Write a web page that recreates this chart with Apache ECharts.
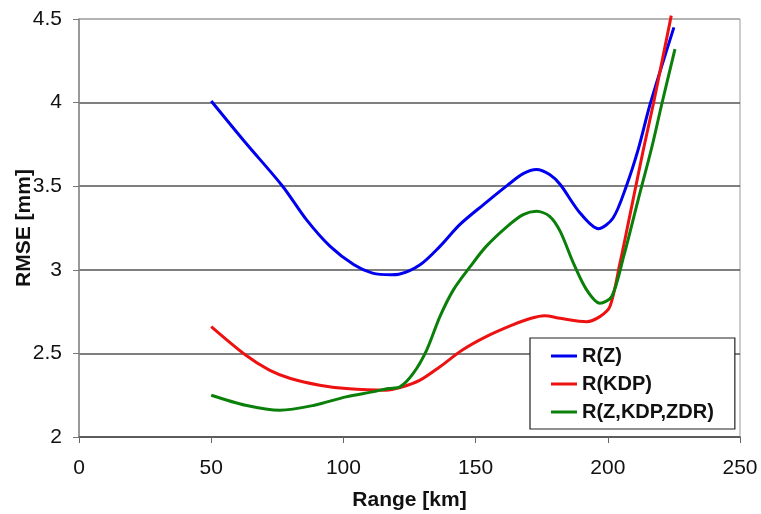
<!DOCTYPE html>
<html>
<head>
<meta charset="utf-8">
<script src="https://cdn.jsdelivr.net/npm/echarts@6/dist/echarts.min.js"></script>
<style>
html,body{margin:0;padding:0;background:#fff;}
#c{width:761px;height:514px;}
</style>
</head>
<body>
<div id="c"></div>
<script>
// R(Z)
var rangeZ = [50, 63, 77, 86, 95, 104, 111, 118, 121, 129, 136.5, 144, 153, 162, 168, 173, 178, 182, 189.5, 196.4, 202, 207, 211.5, 216, 225];
var rmseZ  = [4.01, 3.76, 3.50, 3.30, 3.14, 3.03, 2.98, 2.97, 2.973, 3.03, 3.14, 3.27, 3.39, 3.505, 3.575, 3.60, 3.57, 3.51, 3.34, 3.246, 3.31, 3.50, 3.72, 3.99, 4.45];
// R(KDP)
var rangeKDP = [50, 63, 72, 80, 91, 101, 116, 121.4, 129, 136.5, 145, 154, 164, 171, 176, 182, 192, 197, 200.8, 204.6, 208.4, 213.4, 217.2, 224];
var rmseKDP  = [2.66, 2.49, 2.40, 2.35, 2.31, 2.29, 2.28, 2.295, 2.34, 2.42, 2.52, 2.60, 2.67, 2.71, 2.725, 2.71, 2.69, 2.72, 2.78, 3.04, 3.33, 3.715, 3.99, 4.52];
// R(Z,KDP,ZDR)
var rangeZKZ = [50, 63, 76, 89, 101, 111, 117, 121.4, 126.4, 131.5, 136.5, 141.6, 148, 154, 162, 168, 173, 178, 182, 187, 192, 197, 201.5, 206, 211.5, 216.6, 220.4, 225.4];
var rmseZKZ  = [2.25, 2.19, 2.16, 2.19, 2.24, 2.27, 2.29, 2.30, 2.38, 2.52, 2.72, 2.88, 3.02, 3.14, 3.26, 3.33, 3.35, 3.32, 3.23, 3.04, 2.88, 2.80, 2.84, 3.08, 3.42, 3.73, 3.99, 4.32];
var seriesNames = ['R(Z)', 'R(KDP)', 'R(Z,KDP,ZDR)'];
var xTitle = 'Range [km]';
var yTitle = 'RMSE [mm]';

function pairs(xs, vals){ return xs.map(function(r,i){ return [r, vals[i]]; }); }

var chart = echarts.init(document.getElementById('c'));
var font = 'Liberation Sans, Arial, sans-serif';
function mk(name, xs, vals, color){
  return {
    name: name, type: 'line', data: pairs(xs, vals), smooth: 0.3,
    symbol: 'none', clip: false,
    lineStyle: {color: color, width: 3}, itemStyle: {color: color}
  };
}
chart.setOption({
  animation: false,
  grid: {left: 79, right: 21, top: 19, bottom: 77, containLabel: false, outerBoundsMode: 'none',
         show: true, borderColor: '#999', borderWidth: 1},
  xAxis: {
    type: 'value', min: 0, max: 250, interval: 50,
    name: xTitle, nameLocation: 'middle', nameGap: 53, nameMoveOverlap: false,
    nameTextStyle: {fontFamily: font, fontSize: 21, fontWeight: 'bold', color: '#111'},
    axisLine: {lineStyle: {color: '#555', width: 1.5}},
    axisTick: {show: true, inside: false, length: 6, lineStyle: {color: '#666'}},
    axisLabel: {fontFamily: font, fontSize: 21, color: '#111', margin: 21},
    splitLine: {show: false}
  },
  yAxis: {
    type: 'value', min: 2, max: 4.5, interval: 0.5,
    name: yTitle, nameLocation: 'middle', nameGap: 44, nameMoveOverlap: false,
    nameTextStyle: {fontFamily: font, fontSize: 21, fontWeight: 'bold', color: '#111'},
    axisLine: {show: true, lineStyle: {color: '#888', width: 1.5}},
    axisTick: {show: true, length: 6, lineStyle: {color: '#777'}},
    axisLabel: {fontFamily: font, fontSize: 21, color: '#111', margin: 17},
    splitLine: {show: true, lineStyle: {color: ['#555','#555','#555','#555','#555','#aaa'], width: 1.5}}
  },
  legend: {
    orient: 'vertical', left: 530, top: 338,
    padding: [8, 21, 7, 21], itemGap: 8, itemWidth: 26, itemHeight: 3, icon: 'rect',
    backgroundColor: '#fff', borderColor: '#222', borderWidth: 1.2,
    textStyle: {fontFamily: font, fontSize: 20, fontWeight: 'bold', color: '#111'},
    data: seriesNames
  },
  series: [
    mk(seriesNames[0], rangeZ, rmseZ, '#0000ee'),
    mk(seriesNames[1], rangeKDP, rmseKDP, '#ee1111'),
    mk(seriesNames[2], rangeZKZ, rmseZKZ, '#0a800a')
  ]
});
</script>
</body>
</html>
